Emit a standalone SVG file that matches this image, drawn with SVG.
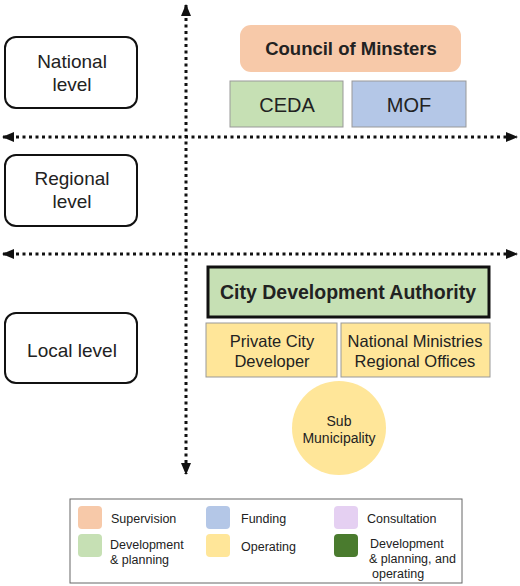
<svg xmlns="http://www.w3.org/2000/svg" width="520" height="586" viewBox="0 0 520 586">
<style>
text{font-family:"Liberation Sans",Arial,Helvetica,sans-serif;fill:#222;text-anchor:middle}
.lvl{fill:#fff;stroke:#111;stroke-width:2}
.lt{font-size:19px}
.ax{stroke:#111;stroke-width:3;stroke-dasharray:3 3.5;fill:none}
.leg{font-size:12.5px;text-anchor:start}
</style>
<defs>
<marker id="ah" viewBox="0 0 12 10" refX="11" refY="5" markerWidth="12" markerHeight="10" orient="auto-start-reverse" markerUnits="userSpaceOnUse">
<path d="M0,0 L12,5 L0,10 z" fill="#111"/>
</marker>
</defs>
<rect width="520" height="586" fill="#fff"/>
<g id="connectors">
<line class="ax" x1="186" y1="5" x2="186" y2="474" marker-start="url(#ah)" marker-end="url(#ah)"/>
<line class="ax" x1="3" y1="137" x2="517" y2="137" marker-start="url(#ah)" marker-end="url(#ah)"/>
<line class="ax" x1="3" y1="254" x2="517" y2="254" marker-start="url(#ah)" marker-end="url(#ah)"/>
</g>
<g id="national-level"><rect class="lvl" x="5" y="37" width="132" height="71" rx="11"/><text class="lt" x="72" y="68">National</text><text class="lt" x="72" y="91">level</text></g>
<g id="regional-level"><rect class="lvl" x="5" y="155" width="132" height="71" rx="11"/><text class="lt" x="72" y="185">Regional</text><text class="lt" x="72" y="208">level</text></g>
<g id="local-level"><rect class="lvl" x="5" y="313" width="132" height="70" rx="11"/><text class="lt" x="72" y="357">Local level</text></g>
<g id="council"><rect x="240" y="25" width="221" height="47" rx="11" fill="#f7c9a9"/><text x="351" y="55" font-size="18.5" font-weight="bold">Council of Minsters</text></g>
<g id="ceda"><rect x="230" y="81" width="113" height="46" fill="#c6e0b4" stroke="#999" stroke-width="1"/><text x="287" y="112" font-size="20">CEDA</text></g>
<g id="mof"><rect x="352" y="81" width="114" height="46" fill="#b4c7e7" stroke="#999" stroke-width="1"/><text x="409" y="112" font-size="20">MOF</text></g>
<g id="cda"><rect x="208" y="267" width="281" height="50" fill="#c6e0b4" stroke="#111" stroke-width="3"/><text x="348" y="299" font-size="19.5" font-weight="bold">City Development Authority</text></g>
<g id="private-dev"><rect x="206" y="323" width="131" height="54" fill="#ffe699" stroke="#999" stroke-width="1"/><text x="272" y="347" font-size="16.5">Private City</text><text x="272" y="367" font-size="16.5">Developer</text></g>
<g id="nat-ministries"><rect x="341" y="323" width="149" height="54" fill="#ffe699" stroke="#999" stroke-width="1"/><text x="415" y="347" font-size="16.5">National Ministries</text><text x="415" y="367" font-size="16.5">Regional Offices</text></g>
<g id="sub-municipality"><circle cx="339" cy="428" r="47" fill="#ffe699"/><text x="339" y="426" font-size="14">Sub</text><text x="339" y="443" font-size="14">Municipality</text></g>
<g id="legend">
<rect x="70" y="499" width="392" height="84" fill="#fff" stroke="#666" stroke-width="1"/>
<rect x="78" y="506" width="24" height="23" rx="4" fill="#f7c9a9"/>
<rect x="206" y="506" width="24" height="23" rx="4" fill="#b4c7e7"/>
<rect x="334" y="506" width="24" height="23" rx="4" fill="#e5d0f2"/>
<rect x="78" y="534" width="24" height="23" rx="4" fill="#c6e0b4"/>
<rect x="206" y="534" width="24" height="23" rx="4" fill="#ffe699"/>
<rect x="334" y="534" width="24" height="23" rx="4" fill="#4a7b2e"/>
<text class="leg" x="111" y="523">Supervision</text>
<text class="leg" x="241" y="523">Funding</text>
<text class="leg" x="367" y="523">Consultation</text>
<text class="leg" x="110" y="549">Development</text>
<text class="leg" x="110" y="564">&amp; planning</text>
<text class="leg" x="241" y="551">Operating</text>
<text class="leg" x="370" y="548">Development</text>
<text class="leg" x="369" y="563">&amp; planning, and</text>
<text class="leg" x="372" y="578">operating</text>
</g>
</svg>
